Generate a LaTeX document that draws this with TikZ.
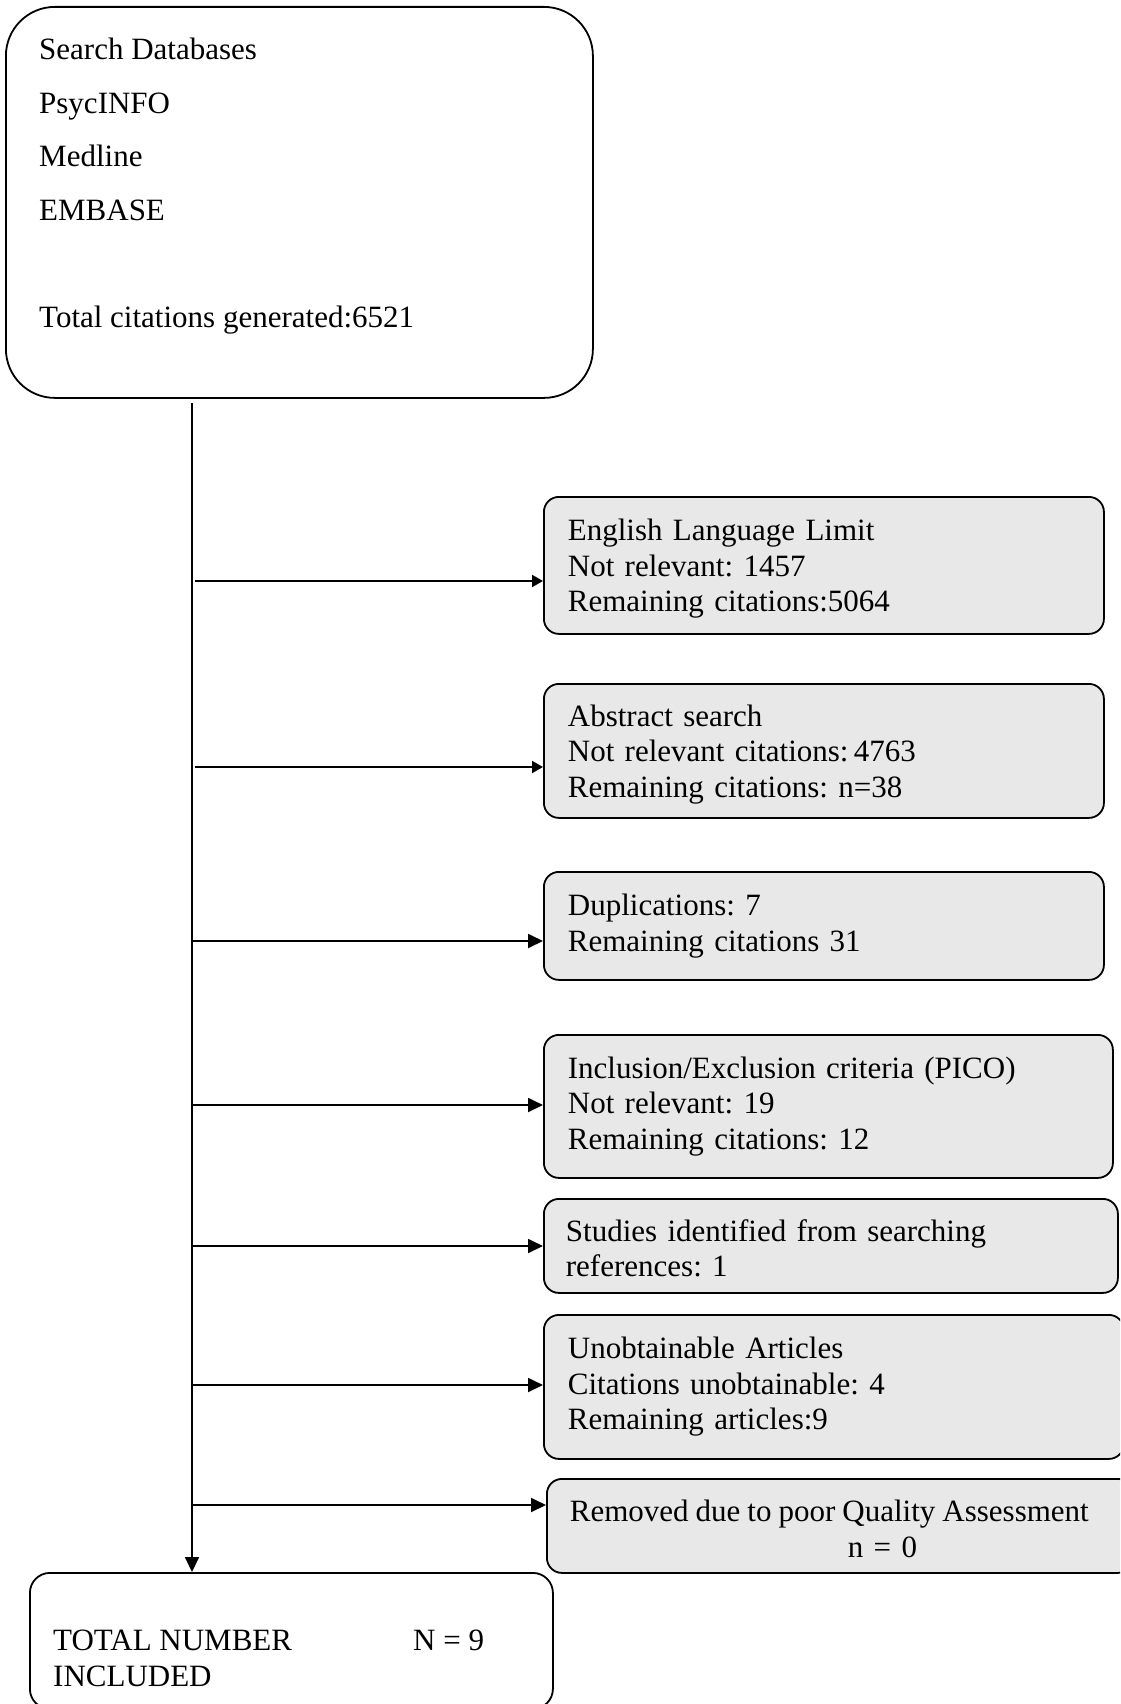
\documentclass[tikz,border=0pt]{standalone}
\usepackage{fontspec}
\setmainfont{Liberation Serif}
\usetikzlibrary{arrows.meta}
\definecolor{boxgray}{RGB}{232,232,232}
\begin{document}
\frenchspacing
\begin{tikzpicture}[x=1pt,y=-1pt,
  txt/.style={font=\fontsize{31}{35.5}\selectfont, inner sep=0pt},
  sidebox/.style={draw=black, line width=1.8pt, fill=boxgray, rounded corners=15pt,
    anchor=north west, align=left, inner xsep=24pt, inner ysep=0pt,
    font=\fontsize{31}{35.5}\selectfont},
  plainbox/.style={draw=black, line width=1.8pt, anchor=north west, inner sep=0pt},
  arr/.style={line width=1.8pt, -{Triangle[length=15pt,width=14pt]}},
  arrsmall/.style={line width=2.2pt, -{Triangle[length=11pt,width=12pt]}}
  ]
\useasboundingbox (0,0) rectangle (1120,1704);
\clip (0,0) rectangle (1120,1704);

% top box
\node[plainbox, rounded corners=49pt, minimum width=587pt, minimum height=391pt] (src) at (5,6) {};
\node[txt, anchor=base west] (s1) at (39,60) {Search Databases};
\node[txt, anchor=base west] (s2) at (39,113.5) {PsycINFO};
\node[txt, anchor=base west] (s3) at (39,167) {Medline};
\node[txt, anchor=base west] (s4) at (39,220.5) {EMBASE};
\node[txt, anchor=base west] (s5) at (39,327.5) {Total citations generated:6521};

% side boxes
\node[sidebox, text width=512pt, minimum height=137pt] (eng) at (543,496)
  {\rule{0pt}{28pt}English Language Limit\\Not relevant: 1457\\Remaining citations:5064};
\node[sidebox, text width=512pt, minimum height=134pt] (abs) at (543,683)
  {\rule{0pt}{28pt}Abstract search\\Not relevant citations:\,4763\\Remaining citations: n=38};
\node[sidebox, text width=512pt, minimum height=108pt] (dup) at (543,871)
  {Duplications: 7\\Remaining citations 31};
\node[sidebox, text width=521pt, minimum height=143pt] (pico) at (543,1034)
  {Inclusion/Exclusion criteria (PICO)\\Not relevant: 19\\Remaining citations: 12};
\node[sidebox, inner xsep=22pt, text width=530pt, minimum height=94pt] (stud) at (543,1198)
  {\rule{0pt}{27pt}Studies identified from searching\\references: 1};
\node[sidebox, text width=532pt, minimum height=144pt] (unob) at (543,1314)
  {Unobtainable Articles\\Citations unobtainable: 4\\Remaining articles:9};
\node[sidebox, inner xsep=23pt, text width=540pt, minimum height=94pt] (rem) at (546,1478)
  {\rule{0pt}{27pt}{\spaceskip=7pt\relax Removed due to poor Quality Assessment}\\\hspace*{278pt}n = 0};

% bottom box
\node[plainbox, rounded corners=20pt, minimum width=523pt, minimum height=136pt] (total) at (29,1572) {};
\node[txt, anchor=base west] (tn1) at (53,1650) {TOTAL NUMBER};
\node[txt, anchor=base west] (tn2) at (413,1650) {N = 9};
\node[txt, anchor=base west] (tn3) at (53,1686) {INCLUDED};

% trunk
\coordinate (tt) at (192,403);
\draw[arr] (tt) -- (tt |- total.north);

% branches
\coordinate (b1) at (195,581);
\coordinate (b2) at (195,767);
\coordinate (b3) at (192,941);
\coordinate (b4) at (192,1105);
\coordinate (b5) at (192,1246);
\coordinate (b6) at (192,1385);
\coordinate (b7) at (192,1505);
\draw[arrsmall] (b1) -- (b1 -| eng.west);
\draw[arrsmall] (b2) -- (b2 -| abs.west);
\draw[arr] (b3) -- (b3 -| dup.west);
\draw[arr] (b4) -- (b4 -| pico.west);
\draw[arr] (b5) -- (b5 -| stud.west);
\draw[arr] (b6) -- (b6 -| unob.west);
\draw[arr] (b7) -- (b7 -| rem.west);
\end{tikzpicture}
\end{document}
